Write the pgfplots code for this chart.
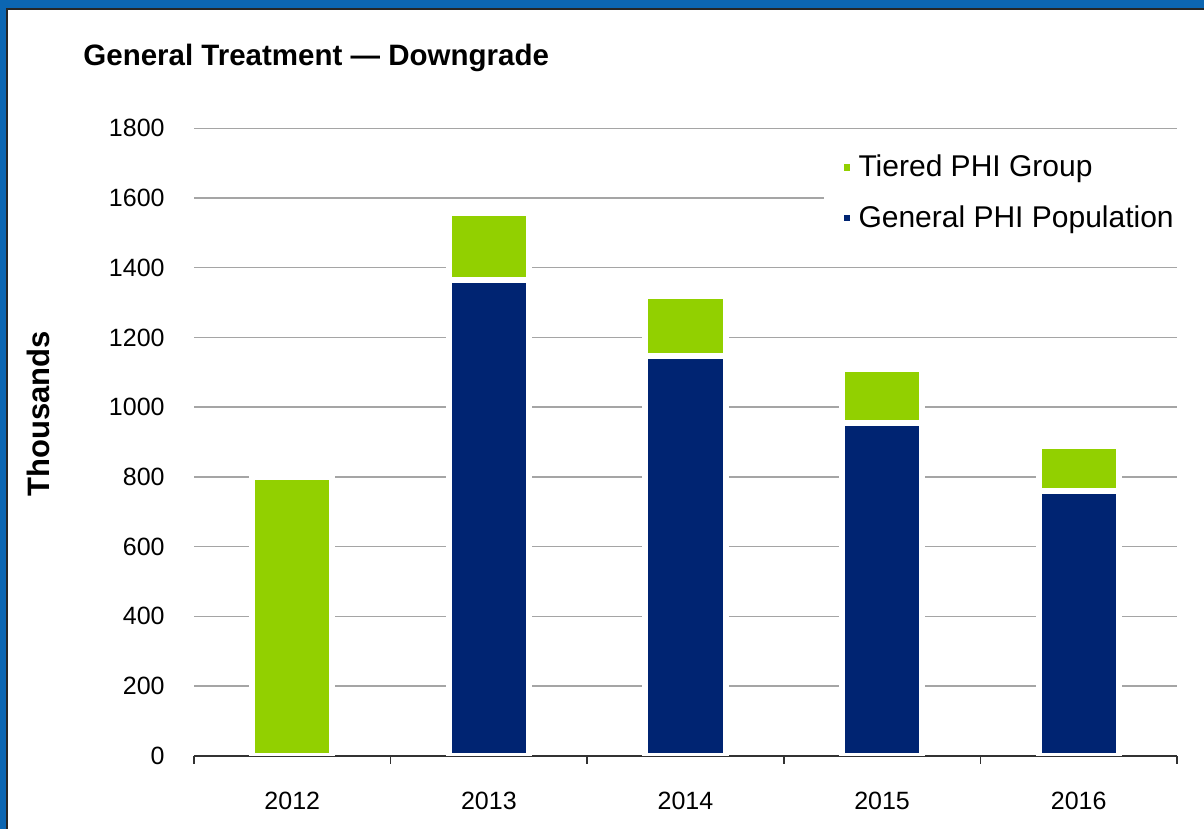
\documentclass[border=0pt]{standalone}
\usepackage{fontspec}
\setmainfont{Liberation Sans}
\usepackage{pgfplots}
\pgfplotsset{compat=1.18}
\definecolor{tgreen}{RGB}{146,208,0}
\definecolor{gnavy}{RGB}{0,36,114}
\definecolor{frameblue}{RGB}{12,102,178}
\definecolor{gridgray}{RGB}{165,165,165}
\definecolor{axisdark}{RGB}{50,50,50}

\begin{document}
\begin{tikzpicture}
\useasboundingbox (0,0) rectangle (602pt,414.5pt);
\fill[frameblue] (0,0) rectangle (602pt,414.5pt);
\fill[white] (4pt,0) rectangle (602pt,409.5pt);
\draw[black!85, line width=1pt] (3.5pt,0) -- (3.5pt,410pt) -- (602pt,410pt);
\node[anchor=base west, font=\fontsize{14.75}{17}\selectfont\bfseries, inner sep=0pt] at (41.5pt,381.75pt) {General Treatment — Downgrade};
\node[rotate=90, anchor=base, font=\fontsize{15.5}{18}\selectfont\bfseries, inner sep=0pt] at (25pt,207.5pt) {Thousands};

\begin{axis}[
  at={(97pt,36.65pt)}, anchor=south west,
  scale only axis, width=491.5pt, height=313.7pt,
  ybar stacked, bar width=40.15pt,
  xmin=-0.5, xmax=4.5, ymin=0, ymax=1800,
  ytick={0,200,...,1800},
  xtick={0,1,2,3,4}, xticklabels={2012,2013,2014,2015,2016},
  minor xtick={-0.5,0.5,1.5,2.5,3.5,4.5},
  axis x line*=bottom, axis y line*=left,
  x axis line style={draw=axisdark, line width=1pt, -},
  y axis line style={draw=none},
  xtick style={draw=none}, ytick style={draw=none},
  minor x tick style={draw=axisdark, line width=0.75pt},
  minor tick length=4pt,
  xtick align=outside,
  ymajorgrids, major grid style={draw=gridgray, line width=0.75pt},
  /pgf/number format/1000 sep={},
  /pgf/number format/assume math mode=true,
  yticklabel style={font=\fontsize{12.5}{15}\selectfont, inner sep=0pt, anchor=east, xshift=-14.5pt},
  xticklabel style={font=\fontsize{12.5}{15}\selectfont, inner sep=0pt, anchor=north, yshift=-13.5pt},
  legend style={draw=none, fill=white, at={(0.64,0.977)}, anchor=north west,
    inner xsep=10pt, inner ysep=4pt, font=\fontsize{15}{18}\selectfont,
    row sep=9pt, legend cell align=left},
  reverse legend,
]
\addplot[fill=gnavy, draw=white, line width=3pt,
  legend image code/.code={\fill[gnavy, draw=none] (0pt,-1.6pt) rectangle (3.2pt,1.6pt); \path[draw=none, fill=none] (0pt,0pt) -- (5.5pt,0pt);}]
  coordinates {(0,0) (1,1365) (2,1147) (3,954) (4,760)};
\addplot[fill=tgreen, draw=white, line width=3pt,
  legend image code/.code={\fill[tgreen, draw=none] (0pt,-1.6pt) rectangle (3.2pt,1.6pt); \path[draw=none, fill=none] (0pt,0pt) -- (5.5pt,0pt);}]
  coordinates {(0,800) (1,192) (2,172) (3,156) (4,128)};
\legend{General PHI Population, Tiered PHI Group}
\draw[axisdark, line width=1pt] (axis cs:-0.5,0) -- (axis cs:4.5,0);
\end{axis}
\end{tikzpicture}
\end{document}
